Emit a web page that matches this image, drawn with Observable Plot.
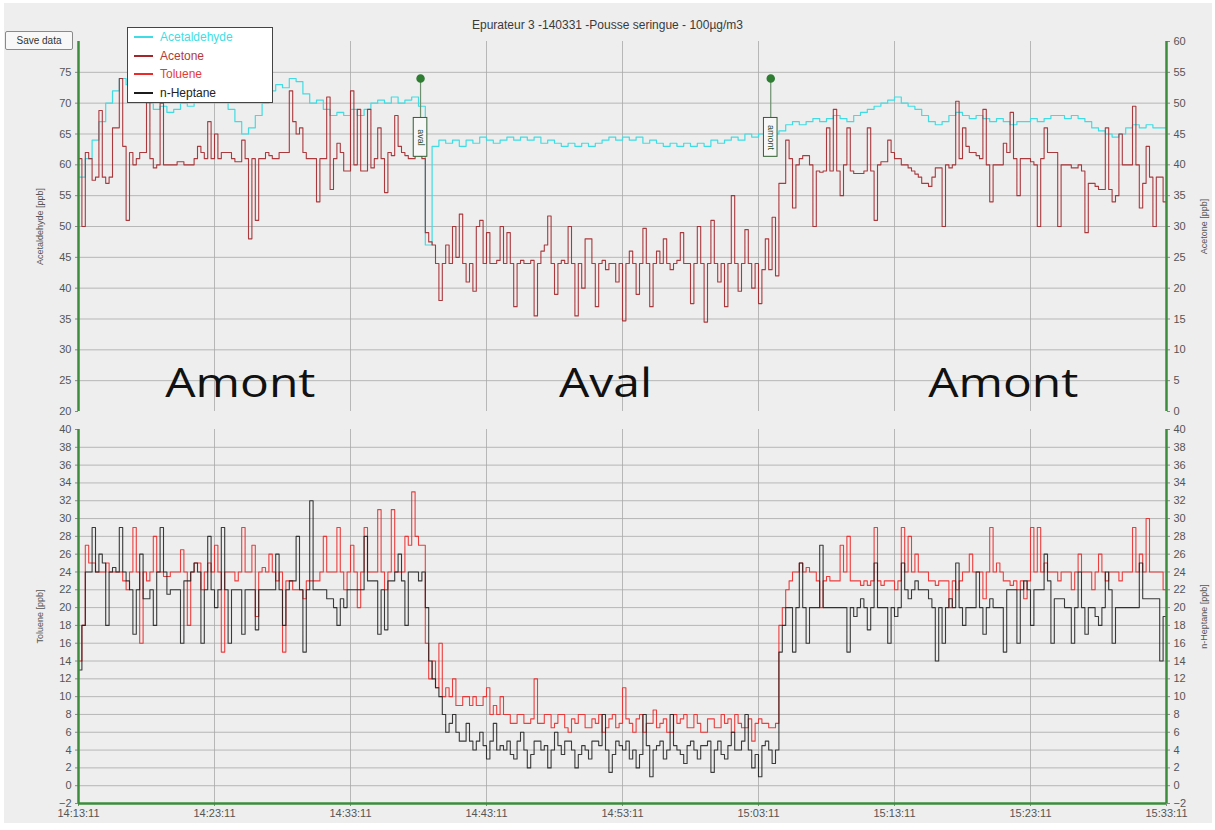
<!DOCTYPE html>
<html>
<head>
<meta charset="utf-8">
<script src="https://cdn.jsdelivr.net/npm/d3@7"></script>
<script src="https://cdn.jsdelivr.net/npm/@observablehq/plot@0.6"></script>
<style>
  html, body { margin: 0; padding: 0; background: #ffffff; }
  #page { position: relative; width: 1215px; height: 830px; overflow: hidden; font-family: "Liberation Sans", Arial, sans-serif; }
  #bg { position: absolute; left: 4px; top: 3px; width: 1208px; height: 820px; background: #eeeeee; }
  .panel { position: absolute; left: 0; }
  #title { position: absolute; left: 0; width: 1215px; top: 18px; text-align: center; font-size: 12px; color: #3a3a3a; }
  #save { position: absolute; left: 5px; top: 31px; width: 66px; height: 17px; border: 1px solid #8a8a8a; border-radius: 2px; background: #f8f8f8; font-size: 10px; color: #333; line-height: 17px; text-align: center; }
  #legend { position: absolute; left: 127px; top: 27px; width: 144px; height: 74px; background: #ffffff; border: 1px solid #444; }
  .row { position: absolute; left: 6px; height: 16px; font-size: 12px; line-height: 16px; }
  .sw { position: absolute; left: 0; top: 7px; width: 19px; height: 2px; }
  .lab { position: absolute; left: 26px; top: 0; white-space: nowrap; }
  svg g[aria-label="y-axis label"] text { font-size: 9px; }
</style>
</head>
<body>
<div id="page">
  <div id="bg"></div>
  <div id="top" class="panel" style="top:0px"></div>
  <div id="bottom" class="panel" style="top:420px"></div>
  <div id="title"></div>
  <div id="save">Save data</div>
  <div id="legend"></div>
</div>
<script>
// ---------- DATA ----------
const chartTitle = "Epurateur 3 -140331 -Pousse seringue - 100µg/m3";
const seriesNames = ["Acetaldehyde", "Acetone", "Toluene", "n-Heptane"];
const seriesColors = ["#3fdde3", "#a3262a", "#ec2a2a", "#1b1b1b"];
const legendTextColors = ["#3fdde3", "#b23a3a", "#e53a3a", "#222222"];

// sample times, minutes after 14:13:11
const minutes = d3.range(161).map(i => i * 0.5);      // acetaldehyde: one reading every 30 s
const minutesFine = d3.range(321).map(i => i * 0.25); // other species: one reading every 15 s

// Acetaldehyde [ppb] (top panel, left axis)
const acetaldehyde = [
  58,61,64,67,70,72,74,73,73.5,72, 70,69,69.5,68.5,69,70,69.5,71,72,72.5,
  71,71.5,69,67,65,66,68,70,72,73, 72.5,74,73.5,71.5,70,70.5,69,68,68.5,68,
  69,68,69,70,70.5,70,71,70,70.5,71, 69.5,47,63,64,63.5,64,63,64,63.5,64.5,
  64,63.5,64,64.5,64,64.5,64,64.5,63.5,64, 63.5,63,63.5,63,63.5,63,63.5,64,64.5,64,
  64.5,64,64.5,63.5,64,63.5,63,63.5,63,63.5, 63,63.5,63,64,63.5,64,64.5,64,65,64.5,
  65,64.5,65,65.5,66.5,67,66.5,67,67.5,67, 67.5,68,67.5,67,68,68.5,69,69.5,70,70.5,
  71,70,69.5,69,68,67,66.5,67,68,68.5, 68,67.5,68,67.5,67,67.5,67,66.5,67,67,
  67.5,67,67.5,68,68,67.5,68,67.5,67,66, 65.5,65,64.5,65,66,66.5,66,66.5,66,66,
  66
];

// Acetone [ppb] (top panel, right axis)
const acetone = [
  41,30, 42,41, 37.5,38, 48.8,38, 37,38, 46,46, 54,43, 31,42, 40,41, 42,42,
  54,41, 39.5,40, 50,40, 40,40, 40,40.5, 40.5,40, 40,40, 41,43, 42,41, 47,41,
  45,41, 42,42, 42,41, 40.5,40.5, 44,41, 28,41, 31,41, 41,42, 41.5,41, 41,42,
  42,42, 52,47, 45,46, 42,41, 41,41, 34,41, 41,51, 36,41, 43.5,42, 39,39,
  52,40, 49,39, 39,49, 39.5,41, 46,41, 35.5,42, 41.5,48, 43,42, 41.5,41, 41,42,
  41.5,41, 29,27.5, 27,24, 18,24, 27,24, 30,25, 32,24, 21,24, 19.5,30, 31,24,
  29,24, 24,24.5, 30,24, 29,24, 17,24, 24.5,24, 24,24.5, 15.5,24, 26,27, 31.7,24,
  19,24, 24.5,24, 30,24, 15.5,24, 20,28, 28,24, 17,24, 24.5,23, 24,24, 21,24,
  14.7,24, 26,24, 19,24, 29.7,24, 17,24, 26,24, 28,24, 23,24, 24.5,29, 24,24,
  17.5,24, 30,24, 14.5,24, 31,24, 21,24, 17,24, 35,24, 19.5,24, 29.5,24, 20,24,
  17.5,23, 28,23, 31.5,22, 37,37, 44,41, 33,40, 41,41.5, 41.5,40, 30,39, 38.8,39,
  46,39, 49,39, 35,40, 46,39, 38.6,38.6, 38.6,39, 46,39, 31,40, 40.5,40.5, 44,42,
  41,41, 40,40, 39.5,39, 38.5,38, 37,37, 36.5,38, 39.5,39.5, 30,40, 39.5,40, 50.3,41,
  46,43, 42,42, 41.5,41, 49,40, 34,40, 40,40, 43.5,42, 48.5,41, 35,41, 41,41,
  40.5,40, 30,41, 46,42, 42,42, 30,40, 40,40, 39.5,39.5, 40,39, 29,37, 37,36.5,
  36,36, 46,36, 34,35, 45,40, 40,40, 49.5,40, 33,37, 43,38, 30,38, 38,34,
  33
];

// Toluene [ppb] (bottom panel, left axis)
const toluene = [
  14,18, 27,25, 25,24, 24,24, 25,24, 24,24, 24,23, 22,24, 29,24, 16,24,
  23,24, 28,24, 24,23.5, 23.5,24, 24,24, 26.5,24, 18,24, 25,25, 22,24, 25,24,
  27,24, 15,24, 24,24, 23,24, 29,24, 24,27, 19,24, 24.5,24, 26,24, 23,24,
  15,23, 23,22, 22,22, 21,23, 23,23, 23,24, 28,24, 24,24, 29,24, 22,24,
  27,24, 20,24, 29,24, 24,24, 31,24, 22,24, 31,24, 24,24, 28,27, 33,28,
  27,27, 16,12, 14,11, 16,10, 11,10, 12,9, 9,10, 10,9, 10,9, 9,10,
  11,8, 9,8, 10,8, 8,7, 7,8, 8,7, 7,7.5, 12,7, 7,8, 8,6.5,
  7,8, 8,6.5, 6,7.5, 7,8, 8,6.5, 6.5,7.5, 7,8, 6,6.5, 7.5,8, 6.5,7,
  11,7.5, 7,6, 7.5,8, 6,7, 7,8.5, 6.5,7, 7.5,6, 6,8, 7,7.5, 8,6.5,
  6.5,8, 7,6, 6,7.5, 7.5,6.5, 6.5,8, 7,7.5, 6,8, 7,6.5, 6.5,7.5, 5,7,
  7.5,7, 7,6.5, 6.5,7, 18,20, 22,23, 24,24, 25,24, 24.5,24, 24,23, 20,23,
  23.5,23, 23,23, 27,24, 28,23, 23,23, 22.5,23, 22.5,23, 29,23, 22.5,23, 23,23,
  22,23, 29,24, 28,24, 26,24, 24,24, 23,23, 22.5,23, 23,23, 20,23, 22,23,
  24,24, 26,24, 24,24, 21,24, 29,24, 25,24, 23,23, 22.5,23, 22,23, 21,23,
  29,24, 29,24, 25,24, 24,24, 23,24, 24,24, 22,24, 26,24, 24,24, 22,24,
  26,24, 23,24, 24,24, 23,24, 24,24, 29,24, 26,24, 30,24, 24,24, 24,22,
  22
];

// n-Heptane [ppb] (bottom panel, right axis)
const heptane = [
  13,18, 24,24, 29,24, 26,25, 18,24, 24.5,24, 29,24, 23,22, 17,22, 26,21,
  21,22, 18,24, 29,24, 21.5,22, 22,22, 16,23, 23,24, 25,24, 16,22, 28,22,
  20,22, 29,22, 16,22, 22,22, 17,22, 22,22, 17.5,22, 22,22, 22,22, 26,22,
  18,22, 23,23, 28,22, 15,22, 32,22, 22,22, 22,21, 21,20, 18,21, 20,22,
  22,22, 22,22, 28,23, 23,23, 17,22, 17.5,23, 23,24, 26,23, 18,24, 24,24,
  23,24, 20,14, 12,11, 10,8, 6,7, 8,6, 5,5, 7,5, 4,5, 6,4.5,
  3,5, 7,4, 4.5,4, 5,3.5, 3,5, 6,4, 2,3.5, 5,5, 4,4.5, 2,4,
  6,4.5, 3.5,5, 5,4, 2,3.5, 4.5,4, 3,5, 5,4.5, 8,4, 1.5,3.5, 5,4.5,
  4,5, 3,4, 2,3.5, 8,4.5, 1,4, 4.5,5, 3,4, 8,4.5, 4,3.5, 2.5,4.5,
  5,4, 3,4.5, 4.5,5, 1.5,4, 5,3.5, 3,4.5, 6,4, 4,5, 8,4, 2,3.5,
  1,4.5, 5,4, 2.5,4, 15,18, 20,20, 15,20, 25,20, 16,20, 20,20, 27,20,
  20,20, 20,20, 20,20, 15,20, 19,20, 21,20, 17.5,20, 25,20, 20,20, 16,20,
  19,20, 25,22, 21,22, 23,22, 22,22, 21,20, 14,20, 16,20, 21,20, 25,20,
  18,20, 20,20, 24,20, 17,20, 21,20, 20,20, 15,22, 22,22, 16,22, 23,22,
  18,22, 22,22, 26,23, 16,21, 21,21, 20,20, 16,20, 24,20, 17,20, 20,19,
  18,20, 24,22, 16,20, 20,20, 20,20, 20,20, 25,21, 21,21, 21,21, 14,19,
  18
];

// axes
const xTicks = [0, 10, 20, 30, 40, 50, 60, 70, 80];
const xTickLabels = ["14:13:11","14:23:11","14:33:11","14:43:11","14:53:11","15:03:11","15:13:11","15:23:11","15:33:11"];
const acetaldehydeTicks = [20, 25, 30, 35, 40, 45, 50, 55, 60, 65, 70, 75];
const acetoneTicks = [0, 5, 10, 15, 20, 25, 30, 35, 40, 45, 50, 55, 60];
const bottomTicks = [-2,0,2,4,6,8,10,12,14,16,18,20,22,24,26,28,30,32,34,36,38,40];

// events (strip markers) and phase annotations
const eventTimes = [25.15, 50.9];
const eventLabels = ["aval", "amont"];
const phaseTimes = [11.9, 38.75, 68];
const phaseLabels = ["Amont", "Aval", "Amont"];

// ---------- BUILD ----------
const ACETONE_OFFSET = 20; // right axis (0-60) shares the panel with left axis (20-80)
const rows = (times, vals) => times.map((t, i) => ({t, v: vals[i]}));
const acetaldehydeRows = rows(minutes, acetaldehyde);
const acetoneRows = rows(minutesFine, acetone);
const tolueneRows = rows(minutesFine, toluene);
const heptaneRows = rows(minutesFine, heptane);
const events = eventTimes.map((t, i) => ({t, label: eventLabels[i]}));
const phases = phaseTimes.map((t, i) => ({t, label: phaseLabels[i]}));

const green = "#3b8c3b";
const gridColor = "#a9a9a9";
const tickColor = "#555";
const fontFamily = '"Liberation Sans", Arial, sans-serif';

const topPlot = Plot.plot({
  width: 1215, height: 420,
  marginLeft: 78, marginRight: 49, marginTop: 41, marginBottom: 9,
  style: {background: "transparent", fontSize: "11px", fontFamily, color: tickColor, overflow: "visible"},
  x: {domain: [0, 80], axis: null},
  y: {domain: [20, 80]},
  marks: [
    Plot.gridX(xTicks.slice(1, -1), {stroke: gridColor, strokeOpacity: 0.8}),
    Plot.gridY(acetaldehydeTicks.slice(1), {stroke: gridColor, strokeOpacity: 0.8}),
    Plot.axisY(acetaldehydeTicks, {anchor: "left", tickSize: 3, tickPadding: 4, stroke: "#888",
      label: "Acetaldehyde [ppb]", labelAnchor: "center", labelArrow: "none", labelOffset: 42}),
    Plot.axisY(acetoneTicks.map(d => d + ACETONE_OFFSET), {anchor: "right", tickSize: 3, tickPadding: 4, stroke: "#888",
      tickFormat: d => d - ACETONE_OFFSET,
      label: "Acetone [ppb]", labelAnchor: "center", labelArrow: "none", labelOffset: 40}),
    Plot.line(acetaldehydeRows, {x: "t", y: "v", stroke: seriesColors[0], strokeWidth: 1.2, curve: "step-after", clip: true}),
    Plot.line(acetoneRows, {x: "t", y: d => d.v + ACETONE_OFFSET, stroke: seriesColors[1], strokeWidth: 1.1, strokeOpacity: 0.9, curve: "step-after", clip: true}),
    Plot.text(phases, {x: "t", y: 24.5, text: "label", fontSize: 40, fontFamily: '"Open Sans", Lato, sans-serif', fill: "#111"}),
    Plot.ruleX(events, {x: "t", y1: 67.5, y2: 74, stroke: "#6f8f6f", strokeWidth: 1.2}),
    Plot.rect(events, {x1: d => d.t - 0.5, x2: d => d.t + 0.5, y1: 61.3, y2: 67.6, fill: "#f7f7f7", stroke: "#2f5f2f", strokeWidth: 1}),
    Plot.text(events, {x: "t", y: 64.45, text: "label", rotate: 90, fontSize: 9, fill: "#2a4a2a"}),
    Plot.dot(events, {x: "t", y: 74, r: 3.5, fill: "#2e7d32", stroke: "#2e7d32"}),
    Plot.ruleX([0], {stroke: green, strokeWidth: 2.5}),
    Plot.ruleX([80], {stroke: green, strokeWidth: 2.5})
  ]
});
document.getElementById("top").appendChild(topPlot);

// the source picture is horizontally stretched: widen the big phase labels (glyphs) by 20 %
topPlot.querySelectorAll("text").forEach(el => {
  if (phaseLabels.includes(el.textContent) && el.getAttribute("transform") !== null || phaseLabels.includes(el.textContent)) {
    const w = el.getComputedTextLength();
    if (w > 40) {
      el.setAttribute("textLength", (w * 1.2).toFixed(1));
      el.setAttribute("lengthAdjust", "spacingAndGlyphs");
    }
  }
});

const bottomPlot = Plot.plot({
  width: 1215, height: 410,
  marginLeft: 78, marginRight: 49, marginTop: 9, marginBottom: 27,
  style: {background: "transparent", fontSize: "11px", fontFamily, color: tickColor, overflow: "visible"},
  x: {domain: [0, 80]},
  y: {domain: [-2, 40]},
  marks: [
    Plot.gridX(xTicks.slice(1, -1), {stroke: gridColor, strokeOpacity: 0.8}),
    Plot.gridY(bottomTicks.slice(1, -1), {stroke: gridColor, strokeOpacity: 0.8}),
    Plot.axisY(bottomTicks, {anchor: "left", tickSize: 3, tickPadding: 4, stroke: "#888",
      label: "Toluene [ppb]", labelAnchor: "center", labelArrow: "none", labelOffset: 42}),
    Plot.axisY(bottomTicks, {anchor: "right", tickSize: 3, tickPadding: 4, stroke: "#888",
      label: "n-Heptane [ppb]", labelAnchor: "center", labelArrow: "none", labelOffset: 40}),
    Plot.axisX(xTicks, {tickSize: 3, tickPadding: 3, stroke: "#888",
      tickFormat: d => xTickLabels[xTicks.indexOf(d)], label: null}),
    Plot.line(tolueneRows, {x: "t", y: "v", stroke: seriesColors[2], strokeWidth: 1.1, strokeOpacity: 0.9, curve: "step-after", clip: true}),
    Plot.line(heptaneRows, {x: "t", y: "v", stroke: seriesColors[3], strokeWidth: 1.1, strokeOpacity: 0.85, curve: "step-after", clip: true}),
    Plot.ruleX([0], {stroke: green, strokeWidth: 2.5}),
    Plot.ruleX([80], {stroke: green, strokeWidth: 2.5}),
    Plot.ruleY([-2], {stroke: green, strokeWidth: 2.5})
  ]
});
document.getElementById("bottom").appendChild(bottomPlot);

// title and legend
document.getElementById("title").textContent = chartTitle;
const legend = document.getElementById("legend");
seriesNames.forEach((name, i) => {
  const row = document.createElement("div");
  row.className = "row";
  row.style.top = (1 + i * 18.5) + "px";
  const sw = document.createElement("div");
  sw.className = "sw";
  sw.style.background = seriesColors[i];
  const lab = document.createElement("div");
  lab.className = "lab";
  lab.style.color = legendTextColors[i];
  lab.textContent = name;
  row.appendChild(sw);
  row.appendChild(lab);
  legend.appendChild(row);
});
</script>
</body>
</html>
